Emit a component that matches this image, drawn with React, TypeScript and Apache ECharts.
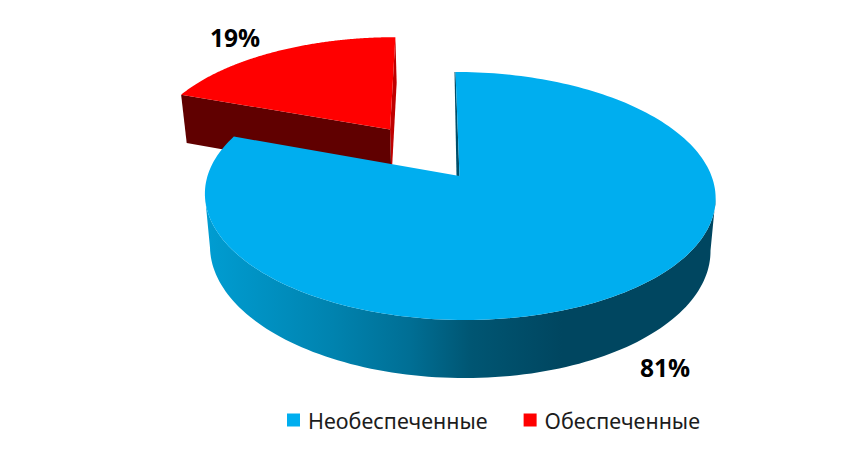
import React, { useEffect, useRef } from "react";
import * as echarts from "echarts";

const categories = ["Необеспеченные", "Обеспеченные"];
const shares = [80.6, 19.4];

const TOP_COLORS = ["#00AEEF", "#FF0000"];
const EXPLODE = [0, 0.5];
const LABEL_POS = [
  [665, 367],
  [235, 37],
];
// projection of the pie plane (unit circle) onto the screen
const VIEW = { cx: 459.5, cy: 176, ax: 252, ay: 120.8, k: 0.161, shear: -4.64, wallScale: 0.98, wallBase: 44, wallGrow: 0.044 };

type P = [number, number];
const project = (X: number, Y: number): P => {
  const w = 1 + VIEW.k * Y;
  return [VIEW.cx + (VIEW.ax * X + VIEW.shear * Y) / w, VIEW.cy - (VIEW.ay * Y) / w];
};
const drop = (p: P): P => [
  VIEW.cx + (p[0] - VIEW.cx) * VIEW.wallScale,
  p[1] + VIEW.wallBase + VIEW.wallGrow * p[1],
];

const total = shares.reduce((a, b) => a + b, 0);

function renderSlice(index: number) {
  const start = (shares.slice(0, index).reduce((a, b) => a + b, 0) / total) * Math.PI * 2;
  const end = start + (shares[index] / total) * Math.PI * 2;
  const mid = (start + end) / 2;
  const ox = Math.sin(mid) * EXPLODE[index];
  const oy = Math.cos(mid) * EXPLODE[index];
  const apex = project(ox, oy);
  const rim: P[] = [];
  const steps = 200;
  for (let i = 0; i <= steps; i++) {
    const a = start + ((end - start) * i) / steps;
    rim.push(project(ox + Math.sin(a), oy + Math.cos(a)));
  }
  const first = rim[0];
  const last = rim[rim.length - 1];
  const label = {
    type: "text",
    style: {
      x: LABEL_POS[index][0],
      y: LABEL_POS[index][1],
      text: Math.round(shares[index]) + "%",
      fill: "#000",
      font: 'bold 24.5px "Open Sans", sans-serif',
      textAlign: "center",
      textVerticalAlign: "middle",
    },
  };
  const top = { type: "polygon", shape: { points: [apex, ...rim] }, style: { fill: TOP_COLORS[index] } };
  if (index === 0) {
    // outer wall: only the front part of the rim, between its rightmost and leftmost points
    let iR = 0;
    let iL = 0;
    rim.forEach((p, i) => {
      if (p[0] > rim[iR][0]) iR = i;
      if (p[0] < rim[iL][0]) iL = i;
    });
    const front = rim.slice(iR, iL + 1);
    const wall = {
      type: "polygon",
      shape: { points: [...front, ...front.map(drop).reverse()] },
      style: {
        fill: new echarts.graphic.LinearGradient(0, 0, 1, 0, [
          { offset: 0, color: "#009DD2" },
          { offset: 0.25, color: "#0083AF" },
          { offset: 0.4, color: "#006F95" },
          { offset: 0.52, color: "#005673" },
          { offset: 0.7, color: "#004660" },
          { offset: 1, color: "#004660" },
        ]),
      },
    };
    const strip = {
      type: "polygon",
      shape: { points: [first, apex, [apex[0] - 3, apex[1]], [first[0] - 1, first[1]]] },
      style: { fill: "#004E69" },
    };
    return { type: "group", children: [strip, wall, top, label] };
  }
  const cutBack = { type: "polygon", shape: { points: [apex, last, drop(last), drop(apex)] }, style: { fill: "#C00000" } };
  const cutFront = { type: "polygon", shape: { points: [apex, first, drop(first), drop(apex)] }, style: { fill: "#600000" } };
  return { type: "group", children: [cutBack, cutFront, top, label] };
}

export default function App() {
  const ref = useRef<HTMLDivElement>(null);
  useEffect(() => {
    const chart = echarts.init(ref.current!, null, { renderer: "svg" });
    chart.setOption({
      animation: false,
      backgroundColor: "#fff",
      legend: {
        data: categories,
        left: 287,
        top: 409,
        padding: 0,
        icon: "rect",
        itemWidth: 13,
        itemHeight: 13,
        itemGap: 36,
        textStyle: { fontFamily: '"Noto Sans", sans-serif', fontSize: 21.5, color: "#1c1c1c", padding: [0, 0, 0, 3] },
      },
      series: categories.map((name, i) => ({
        type: "custom",
        name,
        coordinateSystem: "none",
        z: i === 0 ? 3 : 2,
        silent: true,
        itemStyle: { color: TOP_COLORS[i] },
        data: [[shares[i]]],
        renderItem: () => renderSlice(i),
      })),
    });
    return () => chart.dispose();
  }, []);
  return <div ref={ref} style={{ position: "absolute", left: 0, top: 0, width: 864, height: 450 }} />;
}
